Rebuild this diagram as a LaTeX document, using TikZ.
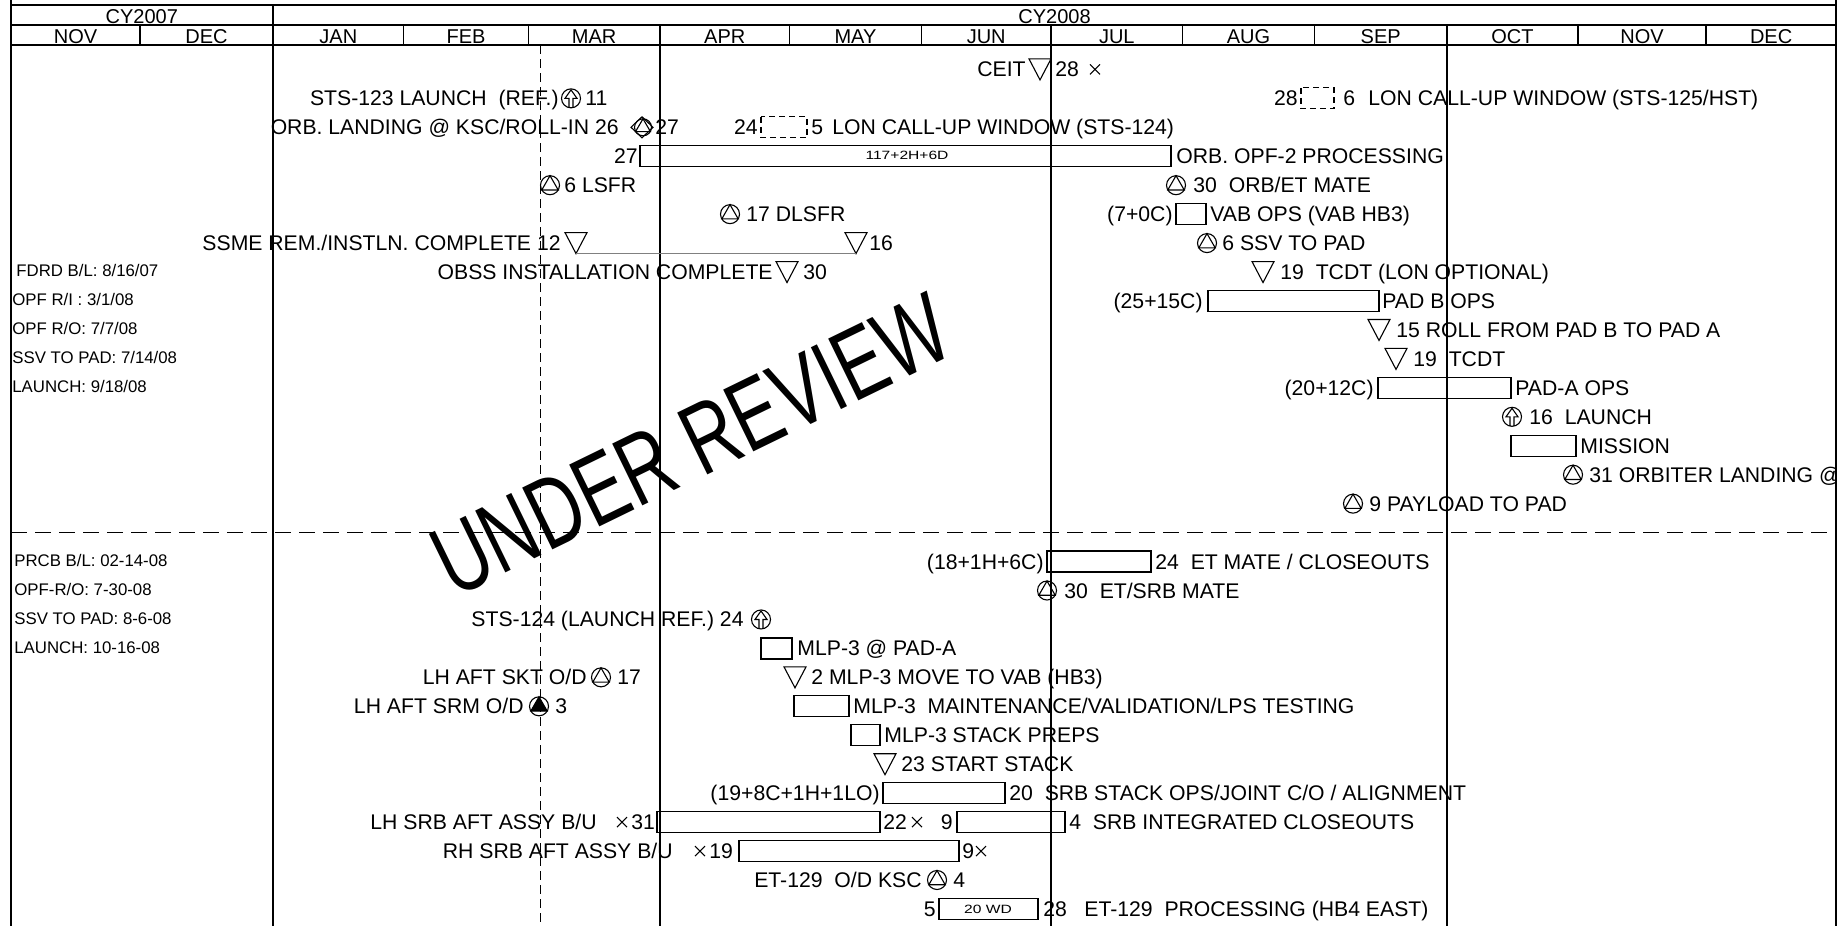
\documentclass[tikz,border=0pt]{standalone}
\usepackage{fontspec}
\setmainfont{Liberation Sans}
\newfontfamily\wmfont[FakeStretch=0.72]{Liberation Sans}
\newfontfamily\widefont[FakeStretch=1.3]{Liberation Sans}
\newcounter{tc}
\tikzset{
  lbl/.style={inner sep=0pt, font=\fontsize{10.6}{12}\selectfont},
  lw/.style={lbl, anchor=base west},
  le/.style={lbl, anchor=base east},
  note/.style={inner sep=0pt, anchor=base west, font=\fontsize{8.4}{10}\selectfont},
  hdr/.style={inner sep=0pt, anchor=base, font=\fontsize{10}{12}\selectfont},
  tinytxt/.style={inner sep=0pt, font=\widefont\fontsize{6}{7}\selectfont},
  frame/.style={line width=0.75pt},
  qline/.style={line width=0.6pt},
  sym/.style={line width=0.55pt},
  barst/.style={line width=0.6pt},
  dbar/.style={line width=0.6pt, dash pattern=on 3pt off 2pt},
}
\newcommand\zTW[3]{\stepcounter{tc}\node[lw] (t\arabic{tc}) at (#1,{#2+7.5}) {#3};}
\newcommand\zTE[3]{\stepcounter{tc}\node[le] (t\arabic{tc}) at (#1,{#2+7.5}) {#3};}
\newcommand\zNT[3]{\stepcounter{tc}\node[note] (t\arabic{tc}) at (#1,{#2+6}) {#3};}
\newcommand\zGB[3]{\draw[barst] (#1,{#3-10.5}) rectangle (#2,{#3+10.5});}
\newcommand\zDB[3]{\draw[dbar] (#1,{#3-10.5}) rectangle (#2,{#3+10.5});}
\newcommand\zTD[2]{\draw[sym] ({#1-11},{#2-10.5}) -- ({#1+11},{#2-10.5}) -- (#1,{#2+10.5}) -- cycle;}
\newcommand\zCT[2]{\draw[sym] (#1,#2) circle[radius=9.5]; \draw[sym] (#1,{#2-9.5}) -- ({#1-8.2},{#2+4.75}) -- ({#1+8.2},{#2+4.75}) -- cycle;}
\newcommand\zCF[2]{\draw[sym] (#1,#2) circle[radius=9.5]; \draw[sym, fill=black] (#1,{#2-9.5}) -- ({#1-8.2},{#2+4.75}) -- ({#1+8.2},{#2+4.75}) -- cycle;}
\newcommand\zCA[2]{\draw[sym] (#1,#2) circle[radius=9.5]; \draw[sym] ({#1-2},{#2+9.3}) -- ({#1-2},#2) -- ({#1-6},#2) -- (#1,{#2-8.5}) -- ({#1+6},#2) -- ({#1+2},#2) -- ({#1+2},{#2+9.3});}
\newcommand\zCD[2]{\draw[sym] ({#1-11},#2) -- (#1,{#2-10.5}) -- ({#1+11},#2) -- (#1,{#2+10.5}) -- cycle; \draw[sym] ({#1+1},#2) circle[radius=8.5]; \draw[sym] ({#1+1},{#2-8.5}) -- ({#1-6.4},{#2+4.25}) -- ({#1+8.4},{#2+4.25}) -- cycle;}
\newcommand\zXM[2]{\draw[sym] ({#1-5},{#2-5}) -- ({#1+5},{#2+5}) ({#1-5},{#2+5}) -- ({#1+5},{#2-5});}
\begin{document}
\begin{tikzpicture}[x=0.5pt,y=-0.5pt]
\useasboundingbox (0,0) rectangle (1845,926);
\clip (0,0) rectangle (1845,926);
% grid
\draw[frame, line width=1pt] (11,5) -- (1836,5);
\draw[frame] (11,25) -- (1836,25);
\draw[frame] (11,45) -- (1836,45);
\draw[frame] (11,0) -- (11,926);
\draw[frame] (1836,0) -- (1836,926);
\draw[frame] (273,5) -- (273,926);
\foreach \x in {660,1051,1447} \draw[qline] (\x,45) -- (\x,926);
\foreach \x in {140,403.6,528.3,660,789.6,921.4,1051,1182.6,1314.4,1447,1578,1706.2} \draw[frame] (\x,25) -- (\x,45);
\draw[line width=0.5pt, dash pattern=on 4.5pt off 2.5pt] (540,45) -- (540,926);
\draw[qline, dash pattern=on 8pt off 4pt] (11,532.6) -- (1836,532.6);
% header
\node[hdr] (cy7) at (141.8,23.5) {CY2007};
\node[hdr] (cy8) at (1054.5,23.5) {CY2008};
\foreach \c/\m [count=\i] in {75.5/NOV,206.5/DEC,338.3/JAN,466/FEB,594.2/MAR,724.8/APR,855.5/MAY,986.2/JUN,1116.8/JUL,1248.5/AUG,1380.7/SEP,1512.5/OCT,1642.1/NOV,1771.1/DEC}
  \node[hdr] (m\i) at (\c,43.5) {\m};
% watermark
\node[rotate=26, inner sep=0pt, font=\wmfont\fontsize{50}{52}\selectfont] (wm) at (691,445) {UNDER REVIEW};
% upper section
\zTE{1026}{69.4}{CEIT} \zTD{1040}{69.4} \zTW{1055}{69.4}{28} \zXM{1095}{69.4}
\zTE{559}{98.35}{STS-123 LAUNCH\ \ (REF.)} \zCA{571}{98.35} \zTW{585}{98.35}{11}
\zTE{1298}{98.35}{28} \zDB{1301}{1334}{98.35} \zTW{1343}{98.35}{6} \zTW{1368}{98.35}{LON CALL-UP WINDOW (STS-125/HST)}
\zTE{619}{127.3}{ORB. LANDING @ KSC/ROLL-IN 26} \zCD{642}{127.3} \zTW{655}{127.3}{27}
\zTE{758}{127.3}{24} \zDB{761}{807}{127.3} \zTW{811}{127.3}{5} \zTW{832}{127.3}{LON CALL-UP WINDOW (STS-124)}
\zTE{638}{156.25}{27} \zGB{640}{1171}{156.25} \node[tinytxt] (opfd) at (907,155) {117+2H+6D}; \zTW{1176}{156.25}{ORB. OPF-2 PROCESSING}
\zCT{550}{185.2} \zTW{564}{185.2}{6 LSFR}
\zCT{1176}{185.2} \zTW{1193}{185.2}{30\ \ ORB/ET MATE}
\zCT{730}{214.15} \zTW{746}{214.15}{17 DLSFR}
\zTE{1173}{214.15}{(7+0C)} \zGB{1176}{1206}{214.15} \zTW{1210}{214.15}{VAB OPS (VAB HB3)}
\zTE{561}{243.1}{SSME REM./INSTLN. COMPLETE 12} \zTD{576}{243.1} \zTD{856}{243.1}
\coordinate (ssa) at (576,253.6); \coordinate (ssb) at (856,253.6);
\draw[gray, line width=0.8pt] (ssa) -- (ssb);
\zTW{869}{243.1}{16}
\zCT{1207}{243.1} \zTW{1222}{243.1}{6 SSV TO PAD}
\zTE{773}{272.05}{OBSS INSTALLATION COMPLETE} \zTD{787}{272.05} \zTW{803}{272.05}{30}
\zTD{1263}{272.05} \zTW{1280}{272.05}{19\ \ TCDT (LON OPTIONAL)}
\zTE{1203}{301}{(25+15C)} \zGB{1208}{1379}{301} \zTW{1382}{301}{PAD B OPS}
\zTD{1379}{329.95} \zTW{1396}{329.95}{15 ROLL FROM PAD B TO PAD A}
\zTD{1396}{358.9} \zTW{1413}{358.9}{19\ \ TCDT}
\zTE{1374}{387.85}{(20+12C)} \zGB{1378}{1511}{387.85} \zTW{1515}{387.85}{PAD-A OPS}
\zCA{1512}{416.8} \zTW{1529}{416.8}{16\ \ LAUNCH}
\zGB{1511}{1576}{445.75} \zTW{1580}{445.75}{MISSION}
\begin{scope}
\clip (0,0) rectangle (1835,926);
\zCT{1573}{474.7} \zTW{1589}{474.7}{31 ORBITER LANDING @}
\end{scope}
\zCT{1353}{503.65} \zTW{1369}{503.65}{9 PAYLOAD TO PAD}
% notes
\zNT{16}{270.5}{FDRD B/L: 8/16/07}
\zNT{12}{299.5}{OPF R/I : 3/1/08}
\zNT{12}{328.5}{OPF R/O: 7/7/08}
\zNT{12}{357.5}{SSV TO PAD: 7/14/08}
\zNT{12}{386.5}{LAUNCH: 9/18/08}
\zNT{14}{560}{PRCB B/L: 02-14-08}
\zNT{14}{589}{OPF-R/O: 7-30-08}
\zNT{14}{618}{SSV TO PAD: 8-6-08}
\zNT{14}{647}{LAUNCH: 10-16-08}
% lower section
\zTE{1044}{561.55}{(18+1H+6C)} \zGB{1047}{1151}{561.55} \zTW{1155}{561.55}{24\ \ ET MATE / CLOSEOUTS}
\zCT{1047}{590.5} \zTW{1064}{590.5}{30\ \ ET/SRB MATE}
\zTE{744}{619.45}{STS-124 (LAUNCH REF.) 24} \zCA{761}{619.45}
\zGB{761}{792}{648.4} \zTW{797}{648.4}{MLP-3 @ PAD-A}
\zTE{587}{677.35}{LH AFT SKT O/D} \zCT{601}{677.35} \zTW{617}{677.35}{17}
\zTD{795}{677.35} \zTW{811}{677.35}{2 MLP-3 MOVE TO VAB (HB3)}
\zTE{524}{706.3}{LH AFT SRM O/D} \zCF{539}{706.3} \zTW{555}{706.3}{3}
\zGB{794}{849}{706.3} \zTW{853}{706.3}{MLP-3\ \ MAINTENANCE/VALIDATION/LPS TESTING}
\zGB{851}{880}{735.25} \zTW{884}{735.25}{MLP-3 STACK PREPS}
\zTD{885}{764.2} \zTW{901}{764.2}{23 START STACK}
\zTE{880}{793.15}{(19+8C+1H+1LO)} \zGB{883}{1005}{793.15} \zTW{1009}{793.15}{20\ \ SRB STACK OPS/JOINT C/O / ALIGNMENT}
\zTE{597}{822.1}{LH SRB AFT ASSY B/U} \zXM{622}{822.1} \zTW{631}{822.1}{31} \zGB{657}{880}{822.1} \zTW{883}{822.1}{22} \zXM{917}{822.1} \zTE{953}{822.1}{9} \zGB{957}{1065}{822.1} \zTW{1069}{822.1}{4\ \ SRB INTEGRATED CLOSEOUTS}
\zTE{673}{851.05}{RH SRB AFT ASSY B/U} \zXM{700}{851.05} \zTW{709}{851.05}{19} \zGB{739}{959}{851.05} \zTW{962}{851.05}{9} \zXM{981}{851.05}
\zTE{922}{880}{ET-129\ \ O/D KSC} \zCT{937}{880} \zTW{953}{880}{4}
\zTE{936}{908.95}{5} \zGB{939}{1038}{908.95} \node[tinytxt] (wd) at (988,909) {20 WD}; \zTW{1043}{908.95}{28} \zTW{1084}{908.95}{ET-129\ \ PROCESSING (HB4 EAST)}
\end{tikzpicture}
\end{document}
